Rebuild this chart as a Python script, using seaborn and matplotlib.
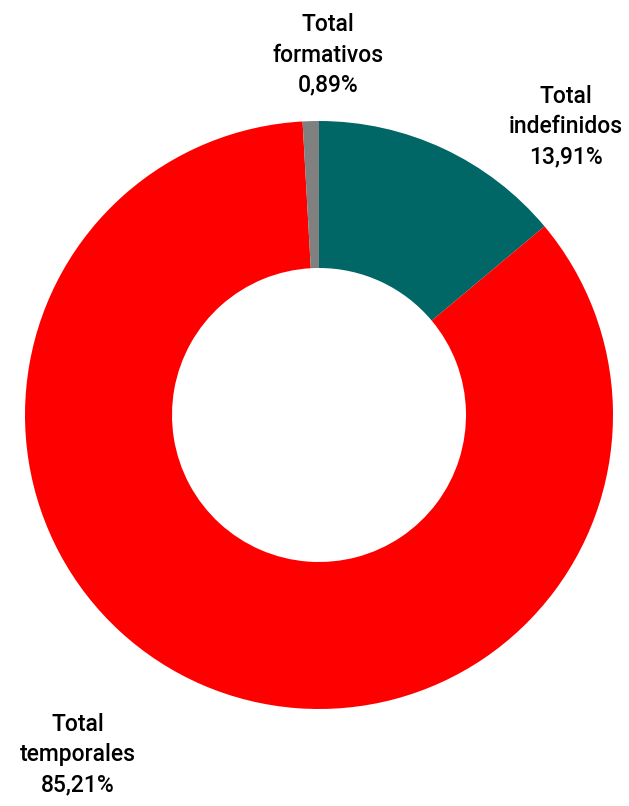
import matplotlib
matplotlib.use("Agg")
import matplotlib.pyplot as plt
import seaborn as sns

# Chart data
categories = ["Total indefinidos", "Total temporales", "Total formativos"]
values = [13.91, 85.21, 0.89]
colors = ["#006666", "#FF0000", "#808080"]
label_pos = [(0.84, 0.98), (-0.82, -1.156), (0.031, 1.224)]

sns.set_style("white")
plt.rcParams['font.family'] = ['Roboto', 'DejaVu Sans']

fig = plt.figure(figsize=(6.29, 8.06), dpi=100)
ax = fig.add_axes([25 / 629, 97 / 806, 588 / 629, 588 / 806])

# Donut: start at 12 o'clock, go clockwise
ax.pie(values, colors=sns.color_palette(colors), startangle=90, counterclock=False,
       radius=1.0, wedgeprops=dict(width=0.5, edgecolor="none"))
ax.set_xlim(-1, 1)
ax.set_ylim(-1, 1)
ax.set_aspect("equal")
ax.axis("off")

# Labels
for name, val, (x, y) in zip(categories, values, label_pos):
    words = name.split(" ")
    txt = f"{words[0]}\n{words[1]}\n{val:.2f}%".replace(".", ",")
    ax.text(x, y, txt, ha="center", va="center", fontsize=16.5, linespacing=1.4,
            fontweight="medium", color="black", clip_on=False)

fig.savefig("out.png", dpi=100)
